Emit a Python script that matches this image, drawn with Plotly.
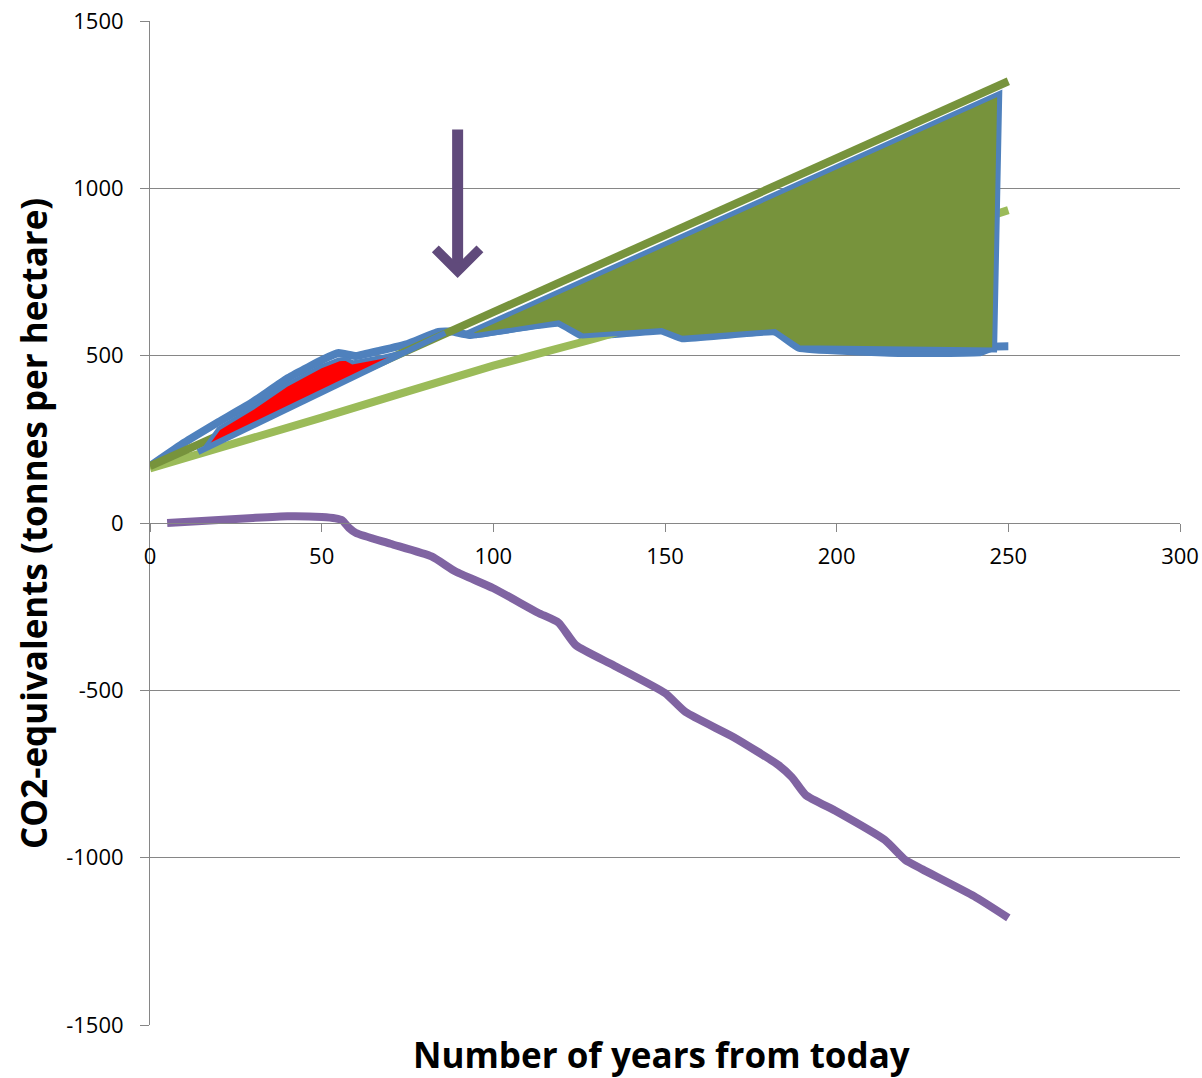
import plotly.graph_objects as go

# ---------------- data ----------------
dark_green_x = [0, 250]
dark_green_y = [170, 1320]

light_green_x = [0, 50, 100, 130, 150, 200, 250]
light_green_y = [163, 315, 470, 552, 612, 770, 935]

blue_x = [0, 10, 20, 30, 40, 50, 55, 60, 67, 75, 84, 88, 93, 119, 126, 149, 155, 182, 189, 218, 242, 246, 250]
blue_y = [170, 240, 302, 362, 432, 487, 508, 499, 515, 535, 571, 572, 562, 598, 559, 575, 552, 572, 524, 508, 511, 527, 528]

purple_x = [5, 10, 20, 30, 40, 50, 54, 56, 58, 60, 70, 82, 89, 100, 113, 119, 124, 135, 150, 156,
            170, 183, 187, 191, 200, 214, 220, 225, 240, 250]
purple_y = [0, 3, 9, 15, 20, 18, 14, 8, -15, -30, -62, -100, -145, -195, -268, -298, -365, -425, -508, -565,
            -640, -723, -760, -813, -862, -947, -1007, -1035, -1115, -1180]

red_area_x = [16, 20, 30, 40, 50, 55, 57, 59, 67, 76]
red_area_y = [226, 282, 344, 414, 469, 489, 491, 480, 495, 516]

red_edge_x = [14, 86]
red_edge_y = [212, 568]

green_area_x = [92, 247.5, 246, 189, 182, 155, 149, 126, 119, 95, 92]
green_area_y = [566, 1284, 517, 524, 572, 552, 575, 559, 598, 560, 566]

arrow_x = 89.6
arrow_tail_y = 1180
arrow_tip_y = 732

x_ticks = [0, 50, 100, 150, 200, 250, 300]
y_ticks = [-1500, -1000, -500, 0, 500, 1000, 1500]
y_ticklabels = ["-1500", "-1000", "-500", "0", "500", "1000", "1500"]

# ---------------- style ----------------
BLUE = "#4F81BD"
DGREEN = "#77933C"
LGREEN = "#9BBB59"
PURPLE = "#8064A2"
ARROW = "#604A7B"
GRID = "#868686"
FONT = "Open Sans"

fig = go.Figure()

fig.add_trace(go.Scatter(x=blue_x, y=blue_y, mode="lines",
                         line=dict(color=BLUE, width=8, shape="spline", smoothing=0.3)))
fig.add_trace(go.Scatter(x=light_green_x, y=light_green_y, mode="lines",
                         line=dict(color=LGREEN, width=8, shape="spline", smoothing=0.4)))
fig.add_trace(go.Scatter(x=dark_green_x, y=dark_green_y, mode="lines",
                         line=dict(color=DGREEN, width=8)))
fig.add_trace(go.Scatter(x=purple_x, y=purple_y, mode="lines",
                         line=dict(color=PURPLE, width=8, shape="spline", smoothing=0.5)))

# freeform shapes
fig.add_trace(go.Scatter(x=red_area_x, y=red_area_y, mode="lines", fill="toself",
                         fillcolor="#FF0000", line=dict(color=BLUE, width=4)))
fig.add_trace(go.Scatter(x=red_edge_x, y=red_edge_y, mode="lines",
                         line=dict(color=BLUE, width=6)))
fig.add_trace(go.Scatter(x=green_area_x, y=green_area_y, mode="lines", fill="toself",
                         fillcolor=DGREEN, line=dict(color=BLUE, width=5)))

fig.add_annotation(x=arrow_x, y=arrow_tip_y, ax=arrow_x, ay=arrow_tail_y,
                   xref="x", yref="y", axref="x", ayref="y", text="",
                   showarrow=True, arrowhead=4, arrowwidth=11, arrowsize=0.78,
                   arrowcolor=ARROW, standoff=0)

fig.add_annotation(text="CO2-equivalents (tonnes per hectare)", textangle=-90,
                   xref="paper", yref="paper", x=-0.1136, y=0.5,
                   xanchor="center", yanchor="middle", showarrow=False,
                   font=dict(family=FONT, size=35, color="black", weight="bold"))
fig.add_annotation(text="Number of years from today",
                   xref="paper", yref="paper", x=0.4966, y=-0.029,
                   xanchor="center", yanchor="middle", showarrow=False,
                   font=dict(family=FONT, size=35, color="black", weight="bold"))

fig.update_layout(
    width=1202, height=1078,
    margin=dict(l=150, r=22, t=21, b=53, autoexpand=False),
    paper_bgcolor="white", plot_bgcolor="white",
    showlegend=False,
    font=dict(family=FONT, size=22, color="black"),
    xaxis=dict(range=[0, 300], tickvals=x_ticks, anchor="free", position=0.5,
               showline=True, linecolor=GRID, linewidth=1, ticks="outside",
               ticklen=8, tickcolor=GRID, showgrid=False, zeroline=False,
               automargin=False, ticklabelstandoff=6,
               tickfont=dict(size=22, color="black")),
    yaxis=dict(range=[-1500, 1500], tickvals=y_ticks, ticktext=y_ticklabels,
               showline=True, linecolor=GRID, linewidth=1, ticks="outside",
               ticklen=9, tickcolor=GRID, showgrid=True, gridcolor=GRID, gridwidth=1,
               zeroline=False, automargin=False, ticklabelstandoff=12,
               tickfont=dict(size=22, color="black")),
)

fig.write_html("out.html", config={"displayModeBar": False},
               post_script="document.body.style.margin='0px';document.body.style.overflow='hidden';")
